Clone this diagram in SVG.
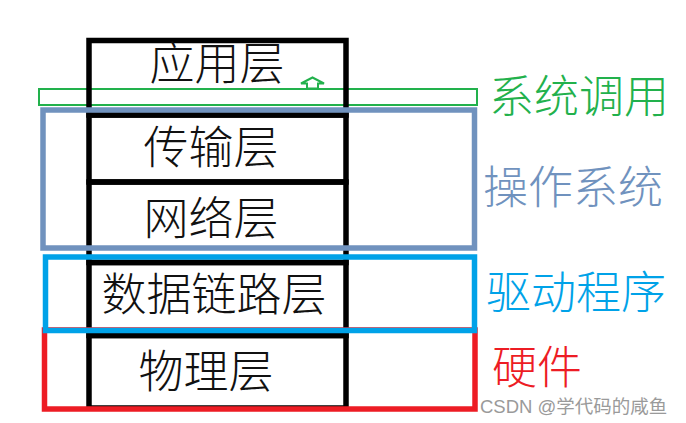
<svg xmlns="http://www.w3.org/2000/svg" width="686" height="423" viewBox="0 0 686 423">
<style>
.layer{fill:none;stroke:#000;stroke-width:5.5}
.lt{font-family:"Noto Sans CJK SC","Liberation Sans",sans-serif;font-size:45px;font-weight:300;fill:#111;text-anchor:middle}
.lbl{font-family:"Noto Sans CJK SC","Liberation Sans",sans-serif;font-size:45px;font-weight:300;text-anchor:start}
.frame{fill:none;stroke-width:5.5}
</style>
<rect width="686" height="423" fill="#fff"/>
<g id="syscall">
<rect x="39" y="89" width="438" height="16" fill="none" stroke="#22b14c" stroke-width="2"/>
<text class="lbl" x="489" y="113" fill="#22b14c">系统调用</text>
</g>
<g id="app-layer">
<rect class="layer" x="89" y="40.5" width="257" height="74.5"/>
<text class="lt" x="217" y="80">应用层</text>
</g>
<g id="transport-layer">
<rect class="layer" x="89" y="115" width="257" height="67"/>
<text class="lt" x="211" y="164">传输层</text>
</g>
<g id="network-layer">
<rect class="layer" x="89" y="182" width="257" height="80.5"/>
<text class="lt" x="211" y="235">网络层</text>
</g>
<g id="datalink-layer">
<rect class="layer" x="89" y="262.5" width="257" height="73"/>
<text class="lt" x="214" y="311">数据链路层</text>
</g>
<g id="physical-layer">
<rect class="layer" x="89" y="335.5" width="257" height="72.5"/>
<text class="lt" x="206" y="388">物理层</text>
</g>
<g id="connectors">
<polygon points="312.5,77.5 324,83.5 318,83.5 318,88.5 307,88.5 307,83.5 301,83.5" fill="#fff" stroke="#22b14c" stroke-width="2"/>
</g>
<g id="hardware">
<rect class="frame" x="44.5" y="330" width="430.5" height="79" stroke="#ed1c24"/>
<text class="lbl" x="492" y="384" fill="#ed1c24">硬件</text>
</g>
<g id="os">
<rect class="frame" x="43" y="110" width="431.5" height="138" stroke="#7092be"/>
<text class="lbl" x="483" y="204" fill="#7092be">操作系统</text>
</g>
<g id="driver">
<rect class="frame" x="45.5" y="257" width="429" height="73.5" stroke="#00a2e8"/>
<text class="lbl" x="486" y="309" fill="#00a2e8">驱动程序</text>
</g>
<text x="480" y="413" font-family="'Liberation Sans','Noto Sans CJK SC',sans-serif" font-size="18.5" fill="#9a9a9a">CSDN @学代码的咸鱼</text>
</svg>
